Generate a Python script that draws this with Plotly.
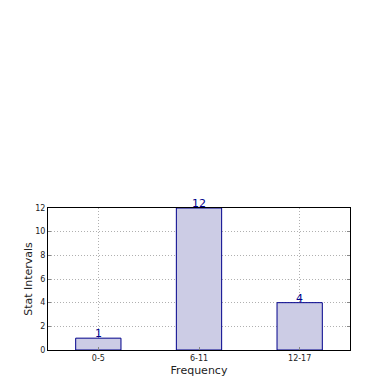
import plotly.graph_objects as go

categories = ["0-5", "6-11", "12-17"]
values = [1, 12, 4]
y_ticks = [0, 2, 4, 6, 8, 10, 12]

fig = go.Figure()
fig.add_trace(go.Bar(
    x=categories, y=values, width=0.45,
    marker=dict(color="rgba(204,204,229,1)", line=dict(color="#00008b", width=1)),
))
for c, v in zip(categories, values):
    fig.add_annotation(x=c, y=v, text=str(v), showarrow=False, yanchor="bottom", yshift=-4,
                       font=dict(color="#00008b", size=11, family="DejaVu Sans"))
fig.update_layout(
    width=382, height=382,
    margin=dict(l=40, r=40, t=200, b=40, autoexpand=False),
    paper_bgcolor="white", plot_bgcolor="white",
    showlegend=False,
    font=dict(family="DejaVu Sans", color="#222"),
)
fig.update_xaxes(
    range=[-0.5, 2.5], showline=True, linecolor="black", linewidth=1, mirror=True,
    showgrid=True, gridcolor="#b0b0b0", griddash="1px,2px", gridwidth=1,
    ticks="inside", ticklen=3, tickcolor="#888", automargin=False,
    tickfont=dict(size=8), layer="above traces",
    title=dict(text="Frequency", font=dict(size=11), standoff=4),
)
fig.update_yaxes(
    range=[0, 12], tickvals=y_ticks, showline=True, linecolor="black", linewidth=1, mirror="ticks",
    showgrid=True, gridcolor="#b0b0b0", griddash="1px,2px", gridwidth=1,
    ticks="inside", ticklen=3, tickcolor="#888", automargin=False,
    tickfont=dict(size=8), layer="above traces", zeroline=False,
    title=dict(text="Stat Intervals", font=dict(size=11), standoff=0),
)
fig.write_html("out.html")
